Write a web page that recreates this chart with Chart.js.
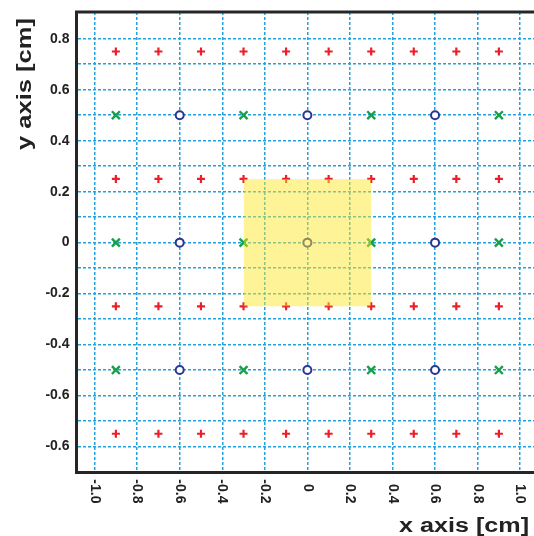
<!DOCTYPE html>
<html lang="en">
<head>
  <meta charset="UTF-8">
  <title>Sampling grid</title>
  <script src="https://cdn.jsdelivr.net/npm/chart.js"></script>
  <style>
    html, body { margin: 0; padding: 0; background: #fff; overflow: hidden; }
    canvas { display: block; }
  </style>
</head>
<body>
  <!-- plot runs past the right edge of the window, so no right frame shows -->
  <canvas id="gridChart" width="544" height="536"></canvas>
  <script>
    // marker positions [cm]
    const plusX = [-0.9, -0.7, -0.5, -0.3, -0.1, 0.1, 0.3, 0.5, 0.7, 0.9];
    const plusY = [0.75, 0.25, -0.25, -0.75];
    const crossX = [-0.9, -0.3, 0.3, 0.9];
    const crossY = [0.5, 0, -0.5];
    const circleX = [-0.6, 0, 0.6];
    const circleY = [0.5, 0, -0.5];

    // highlighted patch in the middle
    const patchX = [-0.3, 0.3];
    const patchY = [-0.25, 0.25];

    // axes
    const xTickValues = [-1.0, -0.8, -0.6, -0.4, -0.2, 0, 0.2, 0.4, 0.6, 0.8, 1.0];
    const xTickLabels = ['-1.0', '-0.8', '-0.6', '-0.4', '-0.2', '0', '0.2', '0.4', '0.6', '0.8', '1.0'];
    const yGridValues = [-0.8, -0.7, -0.6, -0.5, -0.4, -0.3, -0.2, -0.1, 0, 0.1, 0.2, 0.3, 0.4, 0.5, 0.6, 0.7, 0.8];
    const yTickValues = [0.8, 0.6, 0.4, 0.2, 0, -0.2, -0.4, -0.6, -0.8];
    const yTickLabels = ['0.8', '0.6', '0.4', '0.2', '0', '-0.2', '-0.4', '-0.6', '-0.6'];
    const xTitle = 'x axis [cm]';
    const yTitle = 'y axis [cm]';

    const FONT = "'Liberation Sans', Arial, Helvetica, sans-serif";
    const TEXT = '#222';

    // every x/y combination of two coordinate lists
    function combine(xs, ys) {
      const pts = [];
      ys.forEach(y => xs.forEach(x => pts.push({ x: x, y: y })));
      return pts;
    }

    // no extra room around the plot for tick labels
    function noPadding(scale) {
      scale.paddingTop = 0;
      scale.paddingBottom = 0;
      scale.paddingLeft = 0;
      scale.paddingRight = 0;
    }

    // top frame line, rotated x tick labels and the two axis titles
    const framePlugin = {
      id: 'frame',
      afterDraw(chart) {
        const ctx = chart.ctx;
        const area = chart.chartArea;
        const xScale = chart.scales.x;

        ctx.save();
        ctx.strokeStyle = '#262626';
        ctx.lineWidth = 3;
        ctx.beginPath();
        ctx.moveTo(area.left - 1.5, area.top);
        ctx.lineTo(chart.width, area.top);
        ctx.stroke();

        // x tick labels, read top to bottom
        ctx.fillStyle = TEXT;
        ctx.font = 'bold 14px ' + FONT;
        ctx.textAlign = 'left';
        ctx.textBaseline = 'middle';
        const minusW = ctx.measureText('-').width;
        xScale.ticks.forEach(t => {
          const i = xTickValues.findIndex(v => Math.abs(v - t.value) < 1e-6);
          if (i < 0) return;
          const label = xTickLabels[i];
          const px = xScale.getPixelForValue(t.value);
          ctx.save();
          ctx.translate(px, area.bottom + 12);
          ctx.rotate(Math.PI / 2);
          ctx.fillText(label, label.startsWith('-') ? -minusW : 0, 0);
          ctx.restore();
        });

        // axis titles (wide bold face)
        ctx.font = 'bold 20px ' + FONT;
        ctx.textAlign = 'center';
        ctx.textBaseline = 'middle';

        let w = ctx.measureText(xTitle).width;
        ctx.save();
        ctx.translate(464, area.bottom + 54);
        ctx.scale(130 / w, 1);
        ctx.fillText(xTitle, 0, 0);
        ctx.restore();

        w = ctx.measureText(yTitle).width;
        ctx.save();
        ctx.translate(25, area.top + 72);
        ctx.rotate(-Math.PI / 2);
        ctx.scale(132 / w, 1);
        ctx.fillText(yTitle, 0, 0);
        ctx.restore();

        ctx.restore();
      }
    };

    const gridLine = {
      color: '#22a2de',
      lineWidth: 1.5,
      drawTicks: false
    };

    new Chart(document.getElementById('gridChart'), {
      type: 'scatter',
      data: {
        datasets: [
          {
            // translucent yellow patch, drawn on top of everything
            data: [{ x: patchX[0], y: patchY[1] }, { x: patchX[1], y: patchY[1] }],
            showLine: true,
            fill: { value: patchY[0] },
            backgroundColor: 'rgba(255, 230, 40, 0.48)',
            borderColor: 'transparent',
            borderWidth: 0,
            pointRadius: 0
          },
          {
            data: combine(circleX, circleY),
            pointStyle: 'circle',
            pointRadius: 4,
            borderWidth: 2,
            borderColor: '#2b3592',
            backgroundColor: '#ffffff'
          },
          {
            data: combine(crossX, crossY),
            pointStyle: 'crossRot',
            pointRadius: 5.6,
            borderWidth: 2.4,
            borderColor: '#17a04c'
          },
          {
            data: combine(plusX, plusY),
            pointStyle: 'cross',
            pointRadius: 4,
            borderWidth: 2.2,
            borderColor: '#ea1f2b'
          }
        ]
      },
      options: {
        responsive: false,
        animation: false,
        events: [],
        layout: { autoPadding: false, padding: { left: 36.5, top: 12, right: 0, bottom: 64 } },
        plugins: {
          legend: { display: false },
          tooltip: { enabled: false }
        },
        scales: {
          x: {
            type: 'linear',
            min: -1.085,
            max: 1.112,
            afterBuildTicks: scale => { scale.ticks = xTickValues.map(v => ({ value: v })); },
            afterFit: noPadding,
            ticks: { display: false },
            grid: gridLine,
            border: { display: true, color: '#262626', width: 3, dash: [3, 2] }
          },
          y: {
            type: 'linear',
            min: -0.9,
            max: 0.905,
            afterBuildTicks: scale => { scale.ticks = yGridValues.map(v => ({ value: v })); },
            afterFit: scale => { scale.width = 40; noPadding(scale); },
            ticks: {
              autoSkip: false,
              padding: 7,
              color: TEXT,
              font: { family: FONT, size: 14, weight: 'bold' },
              callback: value => {
                const i = yTickValues.findIndex(v => Math.abs(v - value) < 1e-6);
                return i < 0 ? '' : yTickLabels[i];
              }
            },
            grid: gridLine,
            border: { display: true, color: '#262626', width: 3, dash: [3, 2] }
          }
        }
      },
      plugins: [framePlugin]
    });
  </script>
</body>
</html>
